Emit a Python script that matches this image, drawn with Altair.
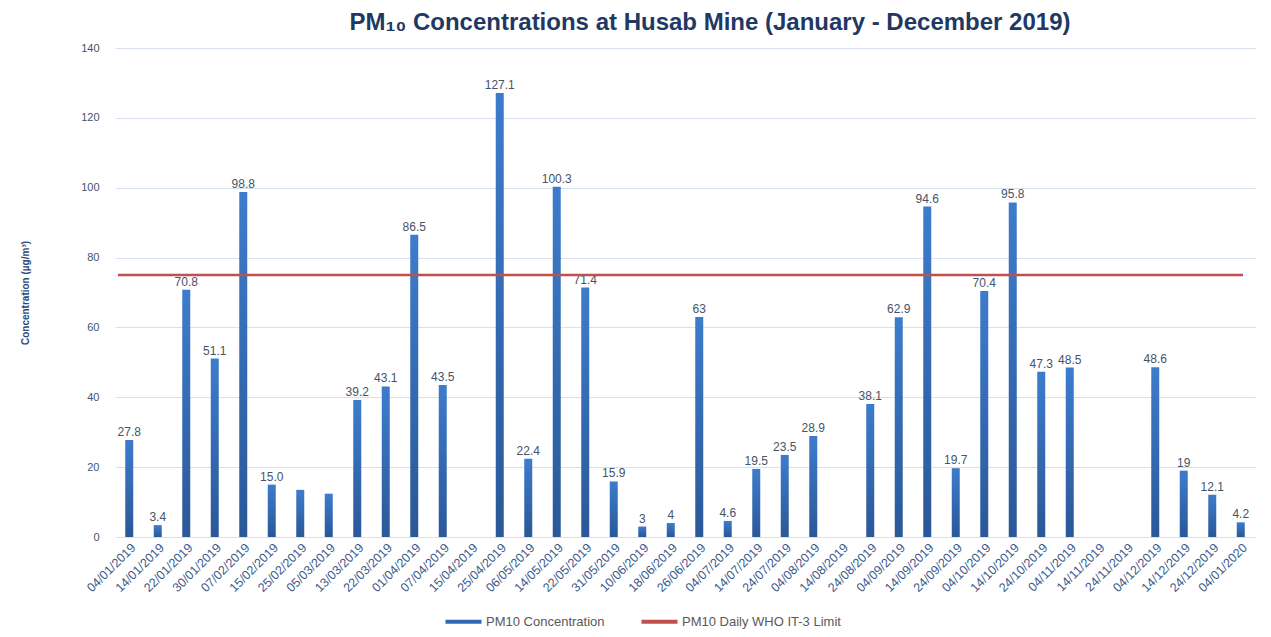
import altair as alt
import pandas as pd

dates = ["04/01/2019", "14/01/2019", "22/01/2019", "30/01/2019", "07/02/2019",
         "15/02/2019", "25/02/2019", "05/03/2019", "13/03/2019", "22/03/2019",
         "01/04/2019", "07/04/2019", "15/04/2019", "25/04/2019", "06/05/2019",
         "14/05/2019", "22/05/2019", "31/05/2019", "10/06/2019", "18/06/2019",
         "26/06/2019", "04/07/2019", "14/07/2019", "24/07/2019", "04/08/2019",
         "14/08/2019", "24/08/2019", "04/09/2019", "14/09/2019", "24/09/2019",
         "04/10/2019", "14/10/2019", "24/10/2019", "04/11/2019", "14/11/2019",
         "24/11/2019", "04/12/2019", "14/12/2019", "24/12/2019", "04/01/2020"]

values = [27.8, 3.4, 70.8, 51.1, 98.8,
          15.0, 13.5, 12.4, 39.2, 43.1,
          86.5, 43.5, None, 127.1, 22.4,
          100.3, 71.4, 15.9, 3, 4,
          63, 4.6, 19.5, 23.5, 28.9,
          None, 38.1, 62.9, 94.6, 19.7,
          70.4, 95.8, 47.3, 48.5, None,
          None, 48.6, 19, 12.1, 4.2]

labels = ["27.8", "3.4", "70.8", "51.1", "98.8",
          "15.0", "", "", "39.2", "43.1",
          "86.5", "43.5", "", "127.1", "22.4",
          "100.3", "71.4", "15.9", "3", "4",
          "63", "4.6", "19.5", "23.5", "28.9",
          "", "38.1", "62.9", "94.6", "19.7",
          "70.4", "95.8", "47.3", "48.5", "",
          "", "48.6", "19", "12.1", "4.2"]

limit_value = [75]
series_names = ["PM10 Concentration", "PM10 Daily WHO IT-3 Limit"]
series_colors = ["#2f69b3", "#c0504d"]

df = pd.DataFrame({"date": dates, "value": values, "label": labels})
limit_df = pd.DataFrame({"limit": limit_value, "series": [series_names[1]]})

label_color = "#44546a"

x_enc = alt.X("date:N", sort=dates, title=None,
              scale=alt.Scale(paddingInner=0, paddingOuter=0),
              axis=alt.Axis(labelAngle=-45, labelFontSize=12.5, labelColor="#3b5a8c",
                            labelFont="Liberation Sans", ticks=False, domain=False,
                            labelPadding=4, labelOverlap=False))
y_enc = alt.Y("value:Q", title="Concentration (µg/m³)",
              scale=alt.Scale(domain=[0, 140], nice=False),
              axis=alt.Axis(values=list(range(0, 141, 20)), labelFontSize=11,
                            labelColor=label_color, labelFont="Liberation Sans",
                            ticks=False, domain=False, labelPadding=16,
                            gridColor="#d6e0ee", gridWidth=1,
                            titleFontSize=10, titleFont="Liberation Sans",
                            titleFontWeight="bold", titleColor="#2a4a80",
                            titlePadding=50))

bars = alt.Chart(df).mark_bar(
    size=8,
    color=alt.Gradient(gradient="linear", x1=0, y1=0, x2=0, y2=1,
                       stops=[alt.GradientStop(color="#3d7ccc", offset=0),
                              alt.GradientStop(color="#2a5898", offset=1)])
).encode(x=x_enc, y=y_enc)

texts = alt.Chart(df).mark_text(
    dy=-8, fontSize=12, color=label_color, font="Liberation Sans"
).encode(x=alt.X("date:N", sort=dates), y="value:Q", text="label:N")

rule = alt.Chart(limit_df).mark_rule(strokeWidth=2.5).encode(
    y="limit:Q",
    x=alt.value(3), x2=alt.value(1128),
    color=alt.Color("series:N", title=None,
                    scale=alt.Scale(domain=series_names, range=series_colors),
                    legend=alt.Legend(orient="none", legendX=328, legendY=553,
                                      direction="horizontal", symbolType="stroke",
                                      symbolSize=1300, symbolStrokeWidth=4,
                                      labelFontSize=13, labelColor="#595959",
                                      labelFont="Liberation Sans",
                                      columnPadding=28, labelOffset=2))
)

chart = alt.layer(bars, texts, rule).properties(
    width=1140, height=489,
    title=alt.TitleParams(
        "PM₁₀ Concentrations at Husab Mine (January - December 2019)",
        fontSize=24, font="Liberation Sans", fontWeight="bold", color="#1f3864",
        anchor="middle", offset=7, dx=25),
    autosize=alt.AutoSizeParams(type="none"),
    padding={"left": 107, "top": 40, "right": 8, "bottom": 95},
).configure_view(stroke=None)

chart.save("out.html", embed_options={"renderer": "svg", "actions": False})
